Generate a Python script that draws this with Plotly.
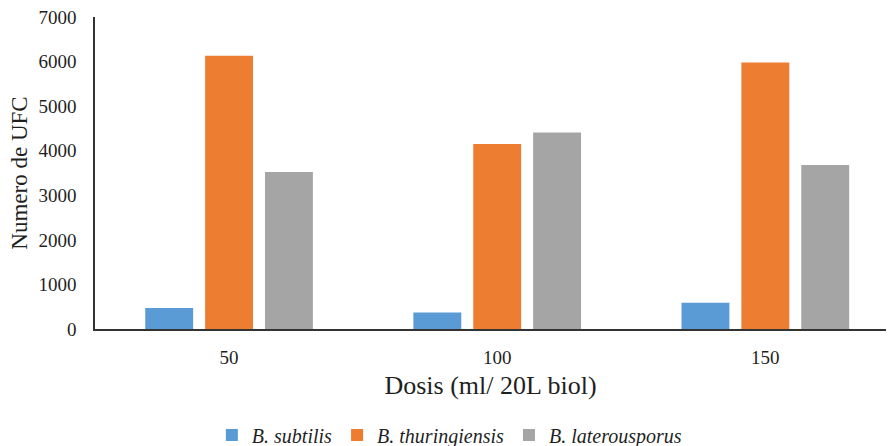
import plotly.graph_objects as go

# Dose categories (ml / 20 L biol)
doses = ["50", "100", "150"]

# Colony counts (UFC) per strain
b_subtilis = [470, 370, 590]
b_thuringiensis = [6130, 4150, 5980]
b_laterousporus = [3520, 4410, 3680]

series = [
    ("<i>B. subtilis</i>", b_subtilis, "#5B9BD5"),
    ("<i>B. thuringiensis</i>", b_thuringiensis, "#ED7D31"),
    ("<i>B. laterousporus</i>", b_laterousporus, "#A5A5A5"),
]

FONT = "Liberation Serif"

fig = go.Figure()
for name, vals, color in series:
    fig.add_trace(go.Bar(
        x=doses, y=vals, name=name,
        marker=dict(color=color, line=dict(width=0)),
    ))

fig.update_layout(
    width=888, height=446,
    margin=dict(l=95, r=2, t=17, b=117, autoexpand=False),
    paper_bgcolor="white", plot_bgcolor="white",
    barmode="group", bargap=0.33, bargroupgap=0.2,
    font=dict(family=FONT, color="#1f1f1f", size=18),
    showlegend=True,
    legend=dict(
        orientation="h", x=0.448, xanchor="center",
        y=-0.34, yanchor="middle",
        font=dict(family=FONT, size=20, color="#1f1f1f"),
        itemwidth=30, tracegroupgap=0,
    ),
    xaxis=dict(
        type="category", range=[-0.5, 2.45],
        showline=True, linecolor="#333333", linewidth=1.5,
        ticks="", showgrid=False, ticklabelstandoff=10,
        tickfont=dict(size=19),
        title=dict(text="Dosis (ml/ 20L biol)", font=dict(size=26), standoff=9),
    ),
    yaxis=dict(
        range=[0, 7000], dtick=1000,
        showline=True, linecolor="#333333", linewidth=1.5,
        ticks="", showgrid=False, zeroline=False, ticklabelstandoff=13,
        tickfont=dict(size=19),
        title=dict(text="Numero de UFC", font=dict(size=23), standoff=4),
    ),
)

fig.write_html("out.html")
